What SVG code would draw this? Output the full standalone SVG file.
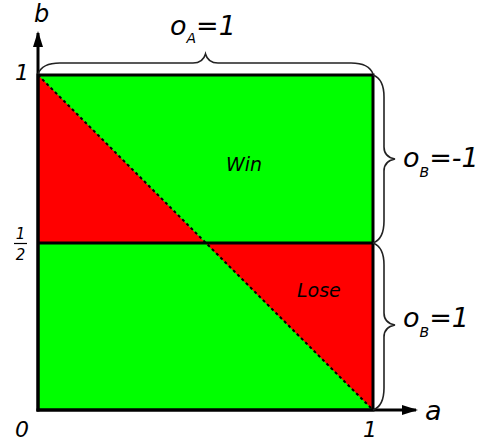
<svg xmlns="http://www.w3.org/2000/svg" width="489" height="443" viewBox="0 0 489 443">
<style>
text{font-family:"DejaVu Sans",sans-serif;font-style:italic;fill:#000}
.brace{fill:none;stroke:#222;stroke-width:1.6}
.border{fill:none;stroke:#000;stroke-width:3}
</style>
<defs>
<marker id="ah" viewBox="0 0 16 10" refX="14" refY="5" markerWidth="16" markerHeight="10" markerUnits="userSpaceOnUse" orient="auto">
<path d="M0,0 L16,5 L0,10 Z" fill="#000"/>
</marker>
</defs>
<rect width="489" height="443" fill="#fff"/>
<g id="regions">
<rect x="38" y="75" width="335" height="335" fill="#00ff00"/>
<polygon points="38,75 205.5,243 38,243" fill="#ff0000"/>
<polygon points="205.5,243 373,243 373,410" fill="#ff0000"/>
</g>
<g id="connectors">
<line x1="38" y1="75" x2="373" y2="410" stroke="#000" stroke-width="2" stroke-dasharray="3,3"/>
<rect class="border" x="38" y="75" width="335" height="335"/>
<line x1="38" y1="243" x2="373" y2="243" stroke="#000" stroke-width="3"/>
<line x1="38" y1="411.5" x2="38" y2="33" stroke="#000" stroke-width="3" marker-end="url(#ah)"/>
<line x1="36.5" y1="410" x2="416" y2="410" stroke="#000" stroke-width="3" marker-end="url(#ah)"/>
<path class="brace" d="M38,74 Q42,63 60,63 L193,63 Q203,63 205.5,54 Q208,63 218,63 L351,63 Q369,63 373,74"/>
<path class="brace" d="M373,75 Q384,79 384,97 L384,147 Q384,157 395,159 Q384,161 384,171 L384,221 Q384,239 373,243"/>
<path class="brace" d="M373,243 Q384,247 384,265 L384,313 Q384,323 395,325 Q384,327 384,337 L384,388 Q384,406 373,410"/>
</g>
<g id="labels">
<text x="34" y="22" font-size="24">b</text>
<text x="425" y="420" font-size="27">a</text>
<text x="15" y="80" font-size="22">1</text>
<text x="15" y="437" font-size="22">0</text>
<text x="363" y="437" font-size="22">1</text>
<text x="20.5" y="239" font-size="15" text-anchor="middle">1</text>
<line x1="14" y1="243.5" x2="27" y2="243.5" stroke="#000" stroke-width="1.2"/>
<text x="20.5" y="260" font-size="15" text-anchor="middle">2</text>
<text x="226" y="171" font-size="19">Win</text>
<text x="297" y="297" font-size="19">Lose</text>
<text x="170" y="35" font-size="27">o<tspan font-size="14" dy="8">A</tspan><tspan dy="-8">=1</tspan></text>
<text x="403" y="167" font-size="27">o<tspan font-size="14" dy="10">B</tspan><tspan dy="-10">=-1</tspan></text>
<text x="403" y="327" font-size="27">o<tspan font-size="14" dy="10">B</tspan><tspan dy="-10">=1</tspan></text>
</g>
</svg>
